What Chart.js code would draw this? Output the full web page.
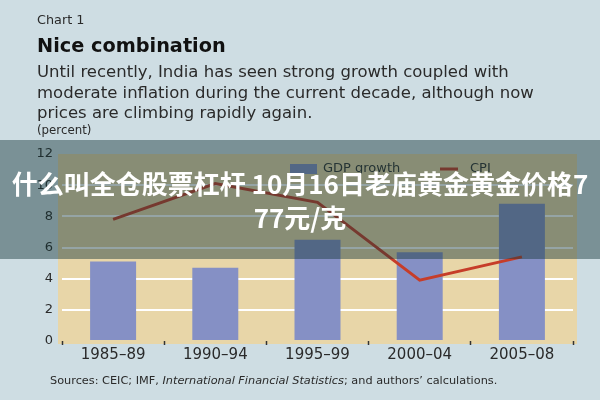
<!DOCTYPE html>
<html>
<head>
<meta charset="utf-8">
<script src="https://cdn.jsdelivr.net/npm/chart.js@4/dist/chart.umd.min.js"></script>
<style>
  html, body { margin:0; padding:0; }
  body { width:600px; height:400px; background:#cedde3; position:relative; overflow:hidden; font-family:"DejaVu Sans", sans-serif; color:#2a2a2a; }
  #c { position:absolute; left:0; top:0; }
  .t { position:absolute; left:37px; white-space:nowrap; }
  #band { position:absolute; left:0; top:140px; width:600px; height:119px; background:rgba(20,54,56,0.45); }
  #ov { position:absolute; left:0; top:166px; width:600px; text-align:center; color:#fff; font-family:"Noto Sans CJK SC", sans-serif; font-weight:700; font-size:26px; line-height:34px; white-space:nowrap; }
</style>
</head>
<body>
<canvas id="c" width="600" height="400"></canvas>
<div class="t" style="top:12px;font-size:12.8px;line-height:15px;">Chart 1</div>
<div class="t" style="top:35px;font-size:19.3px;line-height:22px;font-weight:bold;color:#111;">Nice combination</div>
<div class="t" style="top:62px;font-size:16.5px;line-height:20.5px;">Until recently, India has seen strong growth coupled with<br>moderate inflation during the current decade, although now<br>prices are climbing rapidly again.</div>
<div class="t" style="top:123px;font-size:11.8px;line-height:15px;">(percent)</div>
<div class="t" style="left:50px;top:373px;font-size:11.3px;line-height:15px;">Sources: CEIC; IMF, <i>International Financial Statistics</i>; and authors’ calculations.</div>
<div id="band"></div>
<div id="ov">什么叫全仓股票杠杆 10月16日老庙黄金黄金价格7<br>77元/克</div>
<script>
const categories = ["1985–89", "1990–94", "1995–99", "2000–04", "2005–08"];
const gdpGrowth = [5.1, 4.7, 6.5, 5.7, 8.8];
const cpi = [7.8, 10.1, 8.9, 3.9, 5.4];
const yTicks = [0, 2, 4, 6, 8, 10, 12];

const bgPlugin = {
  id: 'plotBg',
  beforeDraw(chart) {
    const {ctx, chartArea: a} = chart;
    ctx.save();
    ctx.fillStyle = '#e8d6a8';
    ctx.fillRect(a.left - 4, a.top, a.right - a.left + 8, a.bottom - a.top + 3);
    ctx.restore();
  }
};

const legendPlugin = {
  id: 'inLegend',
  afterDatasetsDraw(chart) {
    const {ctx} = chart;
    const ds = chart.data.datasets;
    const gdp = ds.find(d => d.type === 'bar');
    const line = ds.find(d => d.type === 'line');
    ctx.save();
    ctx.font = '13px "DejaVu Sans", sans-serif';
    ctx.textBaseline = 'middle';
    ctx.fillStyle = gdp.backgroundColor;
    ctx.fillRect(290, 164, 27, 10);
    ctx.fillStyle = '#333';
    ctx.fillText(gdp.label, 323, 169);
    ctx.strokeStyle = line.borderColor;
    ctx.lineWidth = 3;
    ctx.beginPath(); ctx.moveTo(440, 169); ctx.lineTo(458, 169); ctx.stroke();
    ctx.fillText(line.label, 470, 169);
    ctx.restore();
  }
};

new Chart(document.getElementById('c'), {
  type: 'bar',
  data: {
    labels: categories,
    datasets: [
      { type: 'line', label: 'CPI', data: cpi, borderColor: '#c63d29', borderWidth: 3, pointRadius: 0, tension: 0, order: 0 },
      { type: 'bar', label: 'GDP growth', data: gdpGrowth, backgroundColor: '#8590c5', barPercentage: 0.45, categoryPercentage: 1, order: 1 }
    ]
  },
  options: {
    responsive: false,
    animation: false,
    events: [],
    layout: { padding: { left: 0, right: 27, top: 154, bottom: 0 } },
    plugins: { legend: { display: false }, tooltip: { enabled: false } },
    scales: {
      y: {
        min: 0, max: 12,
        afterBuildTicks(s) { s.ticks = yTicks.map(v => ({ value: v })); },
        afterFit(s) { s.width = 62; },
        ticks: { font: { family: 'DejaVu Sans', size: 13 }, color: '#2a2a2a', padding: 9 },
        grid: { drawTicks: false, lineWidth: 2, color: c => (c.tick && (c.tick.value === 0 || c.tick.value === 12)) ? 'rgba(0,0,0,0)' : '#ffffff' },
        border: { display: false }
      },
      x: {
        afterFit(s) { s.height = 59; },
        ticks: { font: { family: 'DejaVu Sans', size: 15 }, color: '#2a2a2a', padding: 1 },
        grid: { offset: true, drawOnChartArea: false, tickLength: 4, tickWidth: 1.5, tickColor: '#333' },
        border: { display: false }
      }
    }
  },
  plugins: [bgPlugin, legendPlugin]
});
</script>
</body>
</html>
